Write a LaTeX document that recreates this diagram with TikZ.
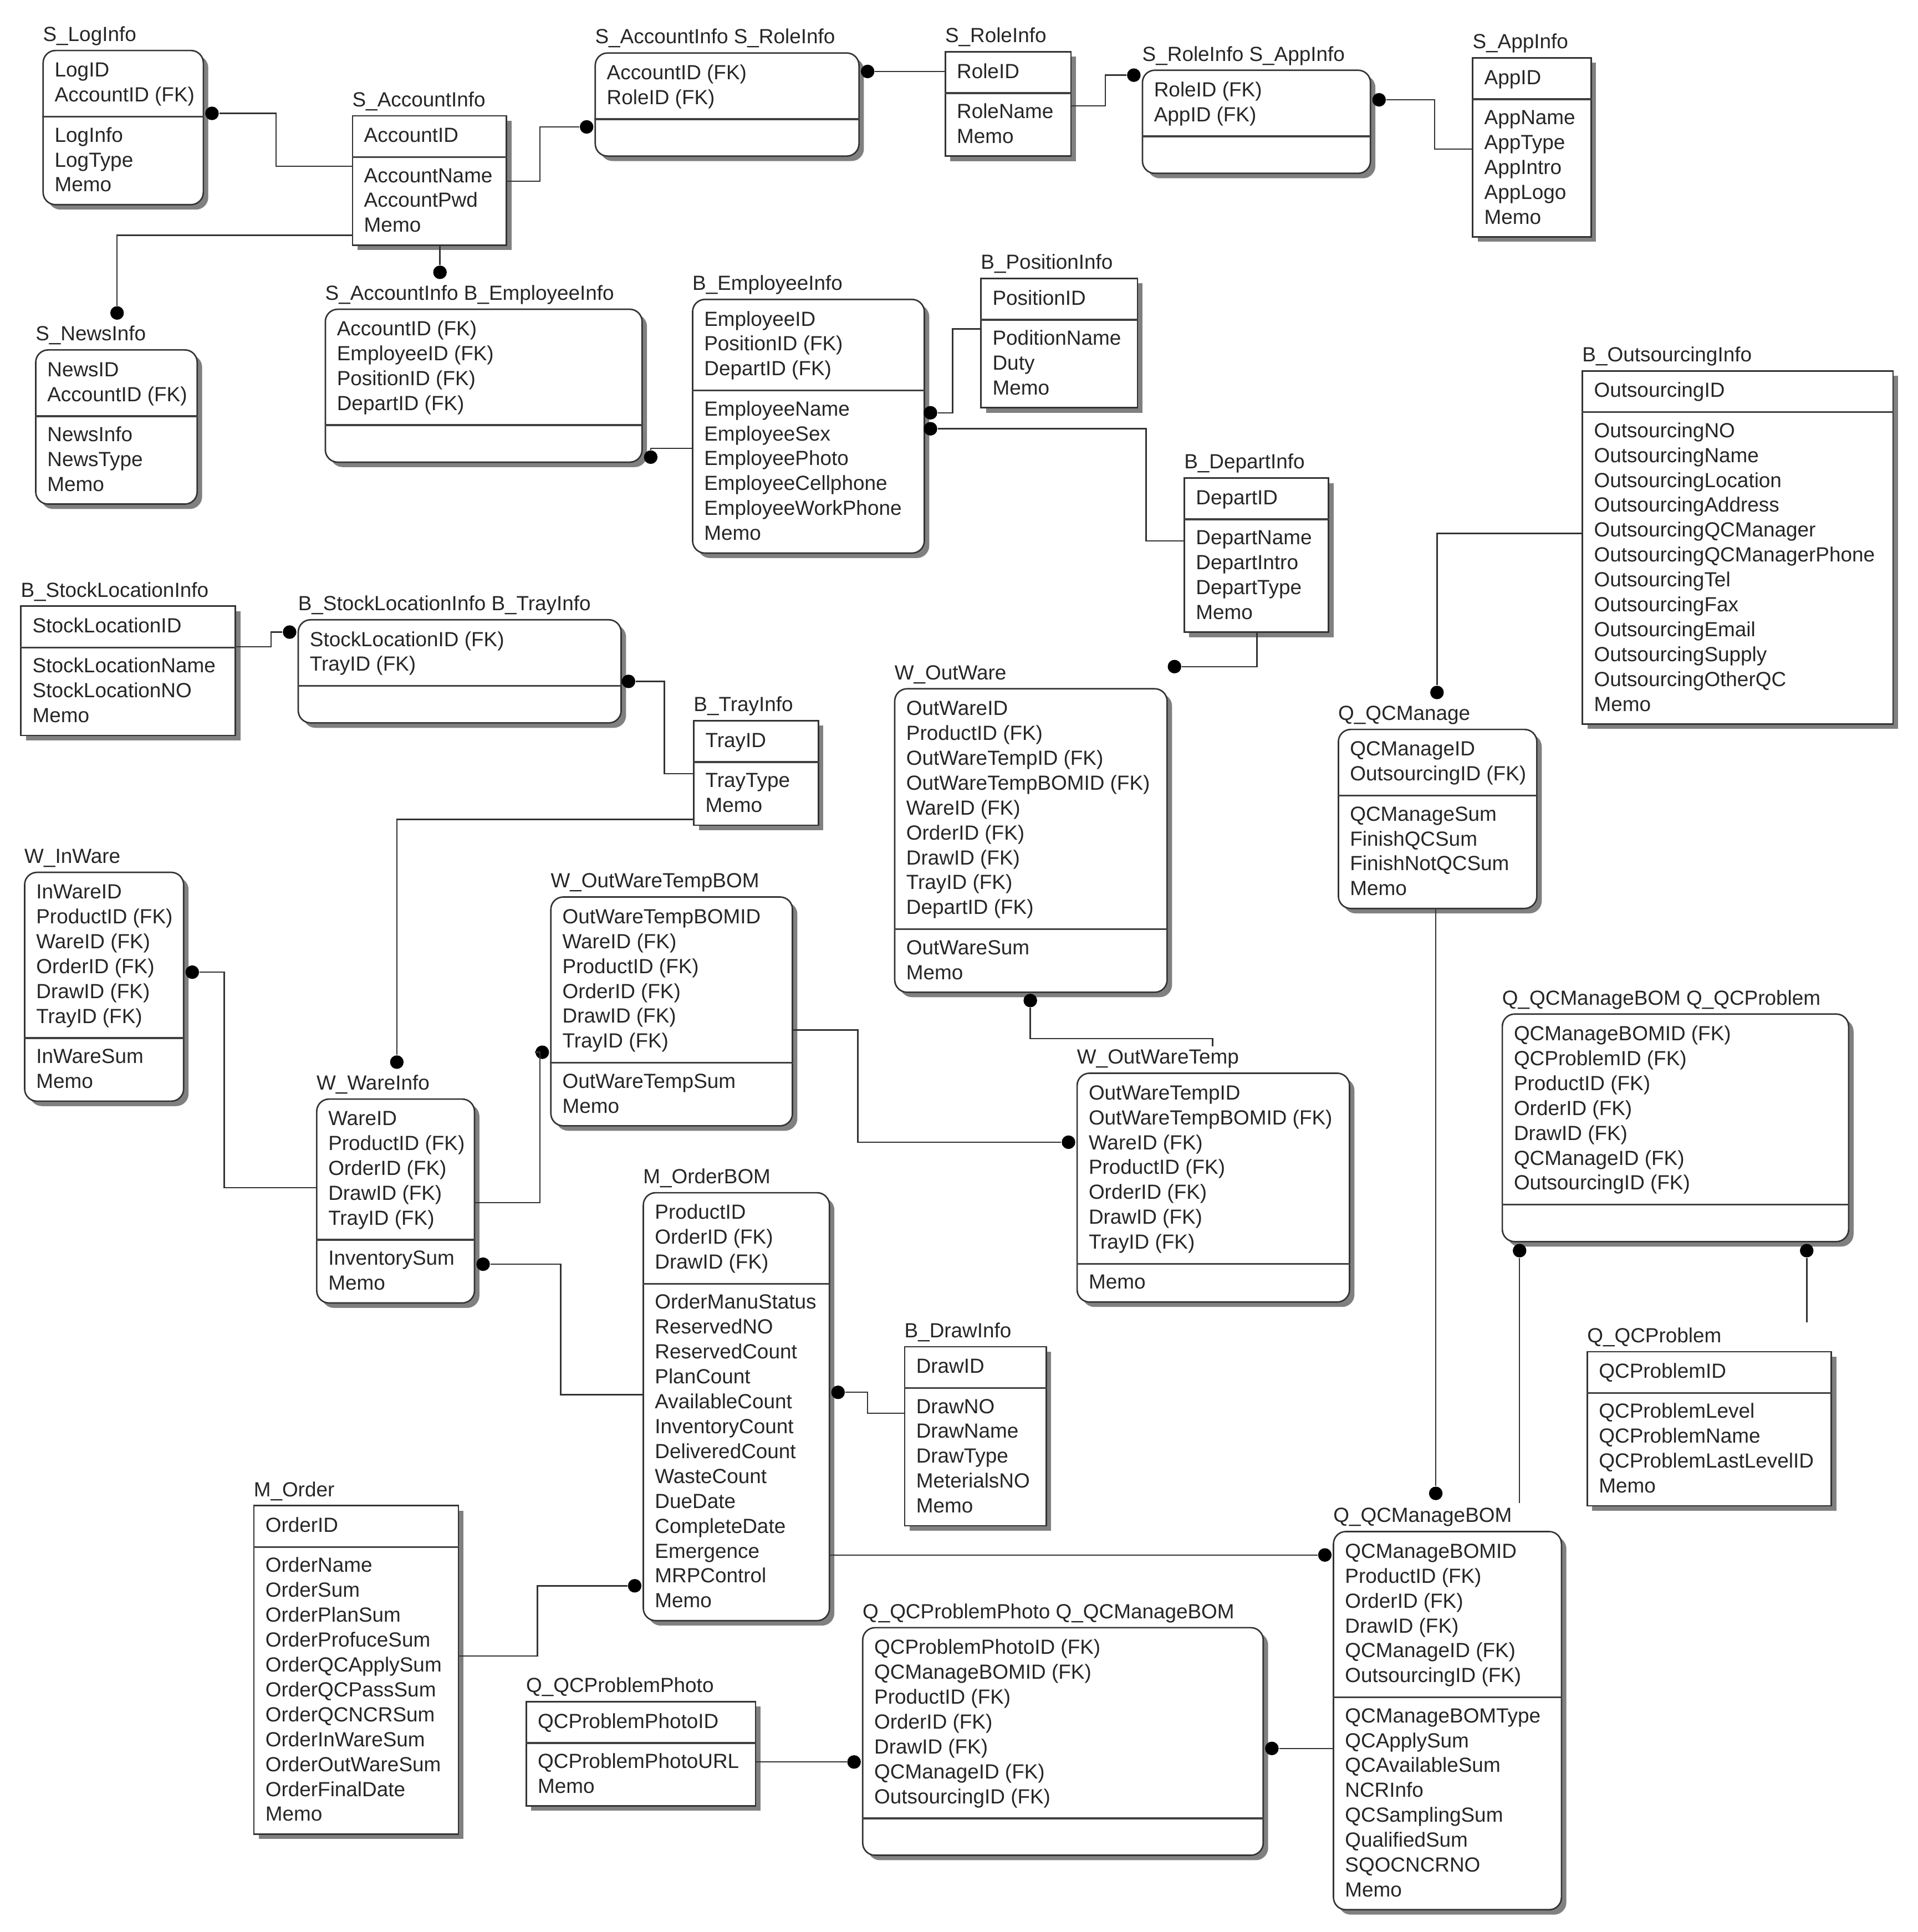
\documentclass[tikz,border=0pt]{standalone}
\usepackage{fontspec}
\setmainfont{Liberation Sans}
\usetikzlibrary{fit,shadows}
\newcommand\cntitems[2]{\gdef#1{0}\foreach \rt in {#2}{\pgfmathtruncatemacro\ccc{#1+1}\xdef#1{\ccc}}}
\newcommand\ent[8]{%
 \cntitems\entnk{#7}%
 \def\entattrs{#8}%
 \ifx\entattrs\empty\gdef\entna{0}\else\cntitems\entna{#8}\fi
 \pgfmathsetmacro\entdy{#4+17+(\entnk-1)*20.2+16.5}%
 \pgfmathsetmacro\entby{\entna>0 ? \entdy+31+(\entna-1)*20.2 : \entdy+30}%
 \node[#2, fit={(#3,#4) (#5,\entby)}] (#1) {};
 \node[lbl] (#1-lbl) at (#3-0.5,#4-7.5) {#6};
 \foreach \rt [count=\i] in {#7} {\node[txt] (#1-k\i) at (#3+9,{#4+21.5+(\i-1)*20.2}) {\rt};}
 \draw[divl] (#1.west |- 0,\entdy) -- (#1.east |- 0,\entdy);
 \ifx\entattrs\empty\else
 \foreach \rt [count=\i] in {#8} {\node[txt] (#1-a\i) at (#3+9,{\entdy+20.5+(\i-1)*20.2}) {\rt};}
 \fi
}
\begin{document}
\begin{tikzpicture}[x=0.5pt,y=-0.5pt,
 sq/.style={draw=black!80, line width=0.6pt, fill=white, inner sep=0pt,
   drop shadow={shadow xshift=2pt, shadow yshift=-2pt, fill=black!50, opacity=1}},
 rd/.style={sq, rounded corners=5pt},
 txt/.style={anchor=base west, inner sep=0pt, font=\fontsize{8.3}{10}\selectfont, text=black!85},
 lbl/.style={txt},
 divl/.style={draw=black!75, line width=0.8pt},
 conn/.style={draw=black!80, line width=0.55pt},
 dot/.style={circle, fill=black, inner sep=0pt, minimum size=5.5pt}]
\fill[white] (0,0) rectangle (1556,1568);
\useasboundingbox (0,0) rectangle (1556,1568);

\ent{loginfo}{rd}{35}{41}{165}{S\_LogInfo}{LogID, AccountID (FK)}{LogInfo, LogType, Memo}
\ent{acct}{sq}{286}{94}{411}{S\_AccountInfo}{AccountID}{AccountName, AccountPwd, Memo}
\ent{acrole}{rd}{483}{43}{697}{S\_AccountInfo S\_RoleInfo}{AccountID (FK), RoleID (FK)}{}
\ent{role}{sq}{767}{42}{869}{S\_RoleInfo}{RoleID}{RoleName, Memo}
\ent{roleapp}{rd}{927}{57}{1112}{S\_RoleInfo S\_AppInfo}{RoleID (FK), AppID (FK)}{}
\ent{app}{sq}{1195}{47}{1291}{S\_AppInfo}{AppID}{AppName, AppType, AppIntro, AppLogo, Memo}
\ent{news}{rd}{29}{284}{160}{S\_NewsInfo}{NewsID, AccountID (FK)}{NewsInfo, NewsType, Memo}
\ent{acemp}{rd}{264}{251}{521}{S\_AccountInfo B\_EmployeeInfo}{AccountID (FK), EmployeeID (FK), PositionID (FK), DepartID (FK)}{}
\ent{emp}{rd}{562}{243}{750}{B\_EmployeeInfo}{EmployeeID, PositionID (FK), DepartID (FK)}{EmployeeName, EmployeeSex, EmployeePhoto, EmployeeCellphone, EmployeeWorkPhone, Memo}
\ent{pos}{sq}{796}{226}{923}{B\_PositionInfo}{PositionID}{PoditionName, Duty, Memo}
\ent{outs}{sq}{1284}{301}{1536}{B\_OutsourcingInfo}{OutsourcingID}{OutsourcingNO, OutsourcingName, OutsourcingLocation, OutsourcingAddress, OutsourcingQCManager, OutsourcingQCManagerPhone, OutsourcingTel, OutsourcingFax, OutsourcingEmail, OutsourcingSupply, OutsourcingOtherQC, Memo}
\ent{dep}{sq}{961}{388}{1078}{B\_DepartInfo}{DepartID}{DepartName, DepartIntro, DepartType, Memo}
\ent{stock}{sq}{17}{492}{191}{B\_StockLocationInfo}{StockLocationID}{StockLocationName, StockLocationNO, Memo}
\ent{stocktray}{rd}{242}{503}{504}{B\_StockLocationInfo B\_TrayInfo}{StockLocationID (FK), TrayID (FK)}{}
\ent{tray}{sq}{563}{585}{664}{B\_TrayInfo}{TrayID}{TrayType, Memo}
\ent{outw}{rd}{726}{559}{947}{W\_OutWare}{OutWareID, ProductID (FK), OutWareTempID (FK), OutWareTempBOMID (FK), WareID (FK), OrderID (FK), DrawID (FK), TrayID (FK), DepartID (FK)}{OutWareSum, Memo}
\ent{qcm}{rd}{1086}{592}{1247}{Q\_QCManage}{QCManageID, OutsourcingID (FK)}{QCManageSum, FinishQCSum, FinishNotQCSum, Memo}
\ent{inw}{rd}{20}{708}{149}{W\_InWare}{InWareID, ProductID (FK), WareID (FK), OrderID (FK), DrawID (FK), TrayID (FK)}{InWareSum, Memo}
\ent{owtb}{rd}{447}{728}{643}{W\_OutWareTempBOM}{OutWareTempBOMID, WareID (FK), ProductID (FK), OrderID (FK), DrawID (FK), TrayID (FK)}{OutWareTempSum, Memo}
\ent{qbp}{rd}{1219}{823}{1500}{Q\_QCManageBOM Q\_QCProblem}{QCManageBOMID (FK), QCProblemID (FK), ProductID (FK), OrderID (FK), DrawID (FK), QCManageID (FK), OutsourcingID (FK)}{}
\ent{owt}{rd}{874}{871}{1095}{W\_OutWareTemp}{OutWareTempID, OutWareTempBOMID (FK), WareID (FK), ProductID (FK), OrderID (FK), DrawID (FK), TrayID (FK)}{Memo}
\ent{ware}{rd}{257}{892}{385}{W\_WareInfo}{WareID, ProductID (FK), OrderID (FK), DrawID (FK), TrayID (FK)}{InventorySum, Memo}
\ent{bom}{rd}{522}{968}{673}{M\_OrderBOM}{ProductID, OrderID (FK), DrawID (FK)}{OrderManuStatus, ReservedNO, ReservedCount, PlanCount, AvailableCount, InventoryCount, DeliveredCount, WasteCount, DueDate, CompleteDate, Emergence, MRPControl, Memo}
\ent{draw}{sq}{734}{1093}{849}{B\_DrawInfo}{DrawID}{DrawNO, DrawName, DrawType, MeterialsNO, Memo}
\ent{qprob}{sq}{1288}{1097}{1486}{Q\_QCProblem}{QCProblemID}{QCProblemLevel, QCProblemName, QCProblemLastLevelID, Memo}
\ent{order}{sq}{206}{1222}{372}{M\_Order}{OrderID}{OrderName, OrderSum, OrderPlanSum, OrderProfuceSum, OrderQCApplySum, OrderQCPassSum, OrderQCNCRSum, OrderInWareSum, OrderOutWareSum, OrderFinalDate, Memo}
\ent{qbom}{rd}{1082}{1243}{1267}{Q\_QCManageBOM}{QCManageBOMID, ProductID (FK), OrderID (FK), DrawID (FK), QCManageID (FK), OutsourcingID (FK)}{QCManageBOMType, QCApplySum, QCAvailableSum, NCRInfo, QCSamplingSum, QualifiedSum, SQOCNCRNO, Memo}
\ent{ppqb}{rd}{700}{1321}{1025}{Q\_QCProblemPhoto Q\_QCManageBOM}{QCProblemPhotoID (FK), QCManageBOMID (FK), ProductID (FK), OrderID (FK), DrawID (FK), QCManageID (FK), OutsourcingID (FK)}{}
\ent{photo}{sq}{427}{1381}{613}{Q\_QCProblemPhoto}{QCProblemPhotoID}{QCProblemPhotoURL, Memo}

% relationship dots (child ends)
\node[dot] (d-a) at (172,92) {};
\node[dot] (d-b) at (476,103) {};
\node[dot] (d-c) at (704,58) {};
\node[dot] (d-d) at (920,61) {};
\node[dot] (d-e) at (1119,81) {};
\node[dot] (d-f) at (95,254) {};
\node[dot] (d-g) at (357,221) {};
\node[dot] (d-h) at (528,371) {};
\node[dot] (d-i) at (755,335) {};
\node[dot] (d-j) at (755,348) {};
\node[dot] (d-k) at (953,541) {};
\node[dot] (d-l) at (1166,562) {};
\node[dot] (d-m) at (235,513) {};
\node[dot] (d-n) at (510,553) {};
\node[dot] (d-o) at (322,862) {};
\node[dot] (d-p) at (156,789) {};
\node[dot] (d-q) at (440,854) {};
\node[dot] (d-r) at (867,927) {};
\node[dot] (d-s) at (836,812) {};
\node[dot] (d-t) at (392,1026) {};
\node[dot] (d-u) at (680,1130) {};
\node[dot] (d-v) at (515,1287) {};
\node[dot] (d-w) at (1075,1262) {};
\node[dot] (d-x) at (1165,1212) {};
\node[dot] (d-y) at (1233,1015) {};
\node[dot] (d-z) at (1466,1015) {};
\node[dot] (d-aa) at (693,1430) {};
\node[dot] (d-bb) at (1032,1419) {};
\coordinate (s-end) at (984,849);
\coordinate (y-end) at (1233,1220);
\coordinate (z-end) at (1466,1073);

% connectors
\draw[conn] (d-a) -- (224,92) -- (224,135) -- (acct.west |- 0,135);
\draw[conn] (acct.east |- 0,147) -- (438,147) -- (438,103) -- (d-b);
\draw[conn] (d-c) -- (role.west |- 0,58);
\draw[conn] (role.east |- 0,86) -- (897,86) -- (897,61) -- (d-d);
\draw[conn] (d-e) -- (1164,81) -- (1164,121) -- (app.west |- 0,121);
\draw[conn] (acct.west |- 0,191) -- (95,191) -- (d-f);
\draw[conn] (acct.south -| 357,0) -- (d-g);
\draw[conn] (emp.west |- 0,364) -- (528,364) -- (d-h);
\draw[conn] (pos.west |- 0,267) -- (773,267) -- (773,335) -- (d-i);
\draw[conn] (d-j) -- (930,348) -- (930,439) -- (dep.west |- 0,439);
\draw[conn] (dep.south -| 1020,0) -- (1020,541) -- (d-k);
\draw[conn] (outs.west |- 0,433) -- (1166,433) -- (d-l);
\draw[conn] (stock.east |- 0,525) -- (220,525) -- (220,513) -- (d-m);
\draw[conn] (d-n) -- (539,553) -- (539,628) -- (tray.west |- 0,628);
\draw[conn] (tray.west |- 0,665) -- (322,665) -- (d-o);
\draw[conn] (d-p) -- (182,789) -- (182,964) -- (ware.west |- 0,964);
\draw[conn] (ware.east |- 0,976) -- (438,976) -- (438,854) -- (d-q);
\draw[conn] (owtb.east |- 0,836) -- (696,836) -- (696,927) -- (d-r);
\draw[conn] (d-s) -- (836,843) -- (984,843) -- (s-end);
\draw[conn] (d-t) -- (455,1026) -- (455,1132) -- (bom.west |- 0,1132);
\draw[conn] (d-u) -- (704,1130) -- (704,1147) -- (draw.west |- 0,1147);
\draw[conn] (order.east |- 0,1344) -- (436,1344) -- (436,1287) -- (d-v);
\draw[conn] (bom.east |- 0,1262) -- (d-w);
\draw[conn] (qcm.south -| 1165,0) -- (d-x);
\draw[conn] (d-y) -- (y-end);
\draw[conn] (d-z) -- (z-end);
\draw[conn] (photo.east |- 0,1430) -- (d-aa);
\draw[conn] (d-bb) -- (qbom.west |- 0,1419);
\end{tikzpicture}
\end{document}
